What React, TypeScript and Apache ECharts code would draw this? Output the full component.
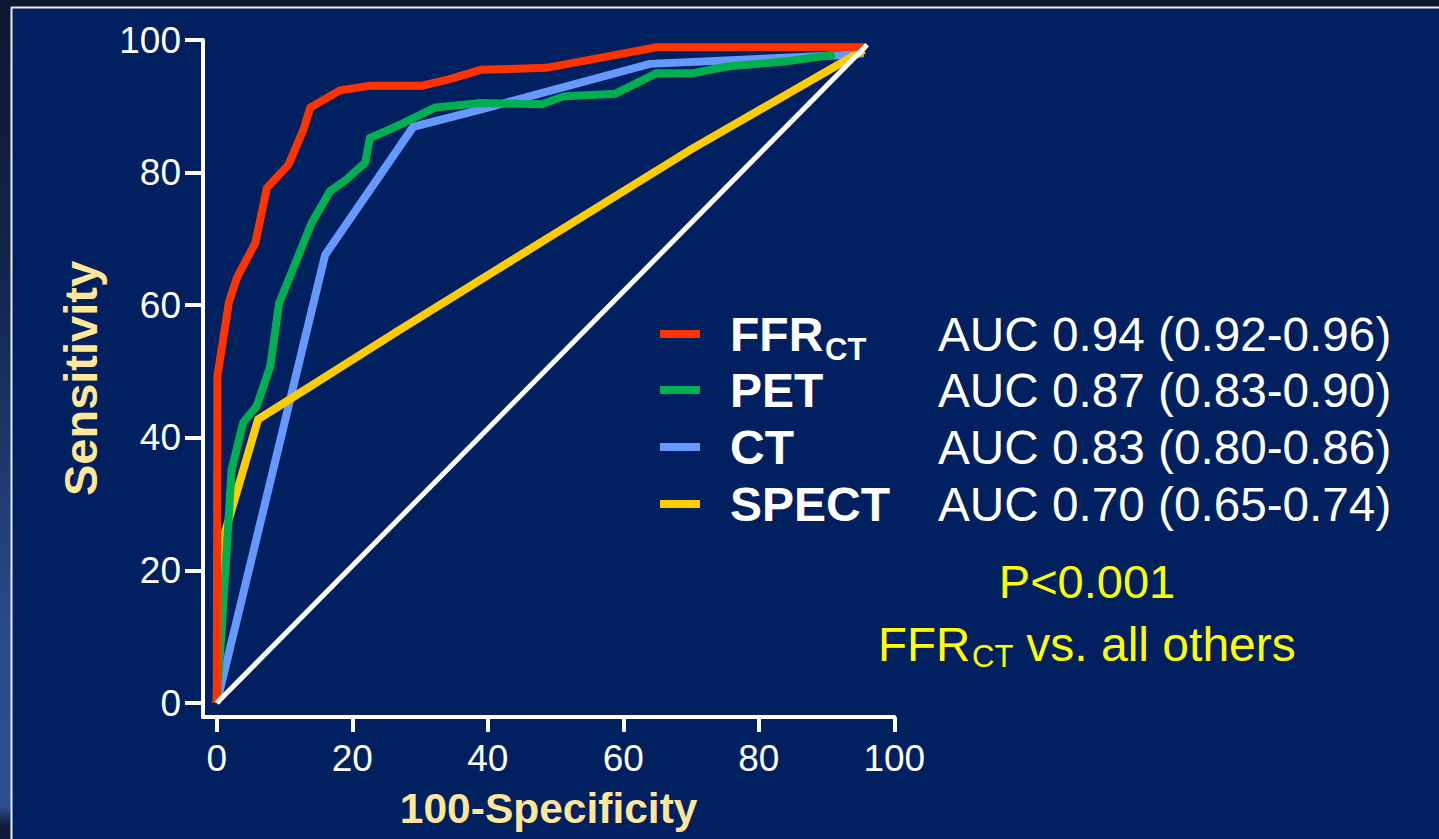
import React, { useEffect, useRef } from 'react';
import * as echarts from 'echarts';

// ---- data ----
const AXIS_TICKS = [0, 20, 40, 60, 80, 100];
const X_TITLE = '100-Specificity';
const Y_TITLE = 'Sensitivity';

const SERIES_NAMES = ['FFR', 'PET', 'CT', 'SPECT'];
const SERIES_SUBS = ['CT', '', '', ''];
const AUC_LABELS = [
  'AUC 0.94 (0.92-0.96)',
  'AUC 0.87 (0.83-0.90)',
  'AUC 0.83 (0.80-0.86)',
  'AUC 0.70 (0.65-0.74)',
];
const P_LINE1 = 'P<0.001';
const P_LINE2_MAIN = 'FFR';
const P_LINE2_SUB = 'CT';
const P_LINE2_REST = ' vs. all others';

const FFR_X = [0, 0.1, 1.8, 3.0, 5.7, 7.4, 10.6, 12.8, 13.8, 18.2, 22.6, 30.3, 34.4, 39.0, 48.7, 64.9, 95.8];
const FFR_Y = [0, 49.3, 60.5, 64.2, 69.4, 77.7, 81.2, 86.5, 89.8, 92.4, 93.1, 93.1, 94.1, 95.5, 95.8, 98.9, 98.9];

const PET_X = [0, 0.6, 2.2, 3.9, 5.9, 7.9, 9.2, 14.0, 16.7, 19.2, 21.9, 22.6, 26.6, 32.2, 38.9, 48.0, 51.2, 58.8, 64.9, 70.3, 75.3, 84.1, 91.2];
const PET_Y = [0, 9.1, 35.2, 42.3, 44.8, 50.8, 60.3, 72.4, 77.2, 79.0, 81.5, 85.2, 87.0, 89.8, 90.5, 90.3, 91.5, 91.9, 95.0, 95.0, 96.0, 96.8, 97.8];

const CT_X = [0, 16.0, 29.0, 38.9, 63.9, 92.0, 95.5];
const CT_Y = [0, 67.6, 86.9, 89.5, 96.4, 97.7, 98.0];

const SPECT_X = [0, 0.6, 6.1, 27.0, 70.0, 95.5];
const SPECT_Y = [0, 23.6, 42.8, 56.3, 83.5, 98.5];

const REF_X = [0, 96];
const REF_Y = [0, 99.3];

// ---- styles ----
const COLORS = ['#ff3300', '#00b050', '#6699ff', '#ffcc00'];
const FONT = '"Liberation Sans", Arial, Helvetica, sans-serif';
const NAVY = '#002060';

const zip = (xs: number[], ys: number[]) => xs.map((x, i) => [x, ys[i]]);

export default function App() {
  const ref = useRef<HTMLDivElement>(null);

  useEffect(() => {
    if (!ref.current) return;
    const chart = echarts.init(ref.current, undefined, { renderer: 'svg' });

    const rowY = [334, 390, 447, 504];
    const txt = (x: number, y: number, text: string, size: number, opts: any = {}) => ({
      type: 'text',
      x,
      y,
      z: 10,
      silent: true,
      style: {
        text,
        fontSize: size,
        fontFamily: FONT,
        fontWeight: opts.bold ? 'bold' : 'normal',
        fill: opts.color || '#ffffff',
        align: opts.align || 'left',
        verticalAlign: 'middle',
        textAlign: opts.align || 'left',
        textVerticalAlign: 'middle',
      },
    });

    const graphics: any[] = [
      // outer dark frame
      { type: 'rect', silent: true, z: 0, shape: { x: 0, y: 0, width: 1439, height: 7 }, style: { fill: '#0c1731' } },
      {
        type: 'rect', silent: true, z: 0,
        shape: { x: 0, y: 0, width: 11, height: 839 },
        style: {
          fill: new echarts.graphic.LinearGradient(0, 0, 0, 1, [
            { offset: 0, color: '#0c1731' },
            { offset: 0.35, color: '#142650' },
            { offset: 0.75, color: '#2a4a88' },
            { offset: 0.96, color: '#2f5090' },
            { offset: 0.985, color: '#101c3a' },
            { offset: 1, color: '#101c3a' },
          ]),
        },
      },
      { type: 'line', silent: true, z: 1, shape: { x1: 11, y1: 7.5, x2: 1439, y2: 7.5 }, style: { stroke: '#e8ecf4', lineWidth: 2 } },
      { type: 'line', silent: true, z: 1, shape: { x1: 11.5, y1: 7, x2: 11.5, y2: 839 }, style: { stroke: '#e8ecf4', lineWidth: 2 } },
    ];

    SERIES_NAMES.forEach((name, i) => {
      const y = rowY[i];
      graphics.push({
        type: 'rect', silent: true, z: 10,
        shape: { x: 660, y: y - 4, width: 40, height: 8 },
        style: { fill: COLORS[i] },
      });
      graphics.push(txt(730, y, name, 48, { bold: true }));
      if (SERIES_SUBS[i]) graphics.push(txt(825, y + 15, SERIES_SUBS[i], 31, { bold: true }));
      graphics.push(txt(938, y, AUC_LABELS[i], 47.7));
    });

    graphics.push(txt(1087, 581, P_LINE1, 47, { color: '#ffff00', align: 'center' }));
    graphics.push(txt(878, 644, P_LINE2_MAIN, 47.5, { color: '#ffff00' }));
    graphics.push(txt(972, 656, P_LINE2_SUB, 31, { color: '#ffff00' }));
    graphics.push(txt(1013, 644, P_LINE2_REST, 48, { color: '#ffff00' }));

    const lineSeries = (name: string, data: number[][], color: string, width: number, z: number) => ({
      type: 'line',
      name,
      data,
      z,
      symbol: 'none',
      smooth: false,
      clip: false,
      silent: true,
      lineStyle: { color, width, cap: 'butt', join: 'miter' },
    });

    chart.setOption({
      animation: false,
      backgroundColor: NAVY,
      textStyle: { fontFamily: FONT },
      grid: {
        left: 203,
        right: 1439 - 894.3,
        top: 40,
        bottom: 839 - 717,
        containLabel: false,
        outerBoundsMode: 'none',
      },
      xAxis: {
        type: 'value',
        min: -2.03,
        max: 100,
        axisLine: { show: true, onZero: false, lineStyle: { color: '#ffffff', width: 4 } },
        axisTick: { show: true, length: 15, customValues: AXIS_TICKS, lineStyle: { color: '#ffffff', width: 4 } },
        axisLabel: { customValues: AXIS_TICKS, color: '#ffffff', fontSize: 37, fontFamily: FONT, margin: 23 },
        splitLine: { show: false },
        name: X_TITLE,
        nameLocation: 'middle',
        nameGap: 70,
        nameTextStyle: { color: '#ffe699', fontSize: 42.5, fontWeight: 'bold', fontFamily: FONT },
      },
      yAxis: {
        type: 'value',
        min: -2.1,
        max: 100,
        axisLine: { show: true, onZero: false, lineStyle: { color: '#ffffff', width: 4 } },
        axisTick: { show: true, length: 18, customValues: AXIS_TICKS, lineStyle: { color: '#ffffff', width: 4 } },
        axisLabel: { customValues: AXIS_TICKS, color: '#ffffff', fontSize: 37, fontFamily: FONT, margin: 22 },
        splitLine: { show: false },
        name: Y_TITLE,
        nameLocation: 'middle',
        nameGap: 99,
        nameTextStyle: { color: '#ffe699', fontSize: 47, fontWeight: 'bold', fontFamily: FONT },
      },
      graphic: graphics,
      series: [
        lineSeries('CT', zip(CT_X, CT_Y), COLORS[2], 8, 2),
        lineSeries('SPECT', zip(SPECT_X, SPECT_Y), COLORS[3], 8, 3),
        lineSeries('PET', zip(PET_X, PET_Y), COLORS[1], 8, 4),
        lineSeries('FFR-CT', zip(FFR_X, FFR_Y), COLORS[0], 8, 5),
        lineSeries('Reference', zip(REF_X, REF_Y), '#ffffff', 5, 6),
      ],
    });

    return () => chart.dispose();
  }, []);

  return (
    <div
      ref={ref}
      style={{ position: 'fixed', left: 0, top: 0, width: 1439, height: 839 }}
    />
  );
}
